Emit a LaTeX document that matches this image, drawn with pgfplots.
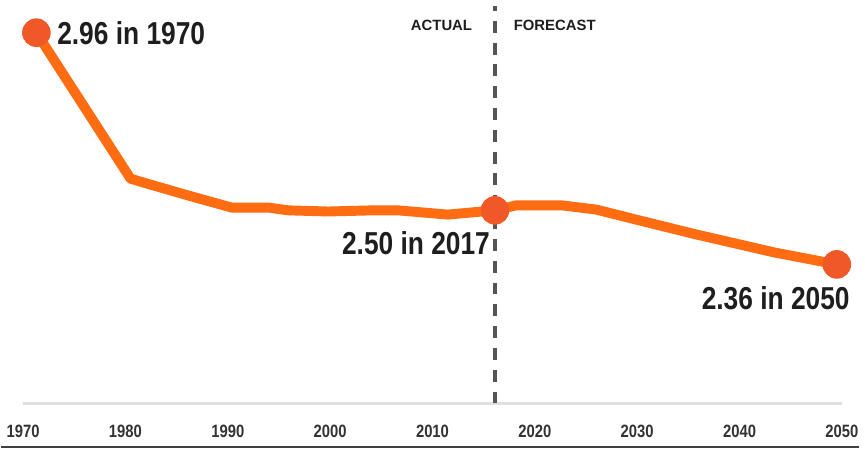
\documentclass[border=0pt]{standalone}
\usepackage{fontspec}
\setmainfont{Liberation Sans}[FakeStretch=0.83]
\newfontfamily\widefont{Liberation Sans}
\usepackage{pgfplots}
\pgfplotsset{compat=1.18}
\definecolor{lineor}{RGB}{255,108,18}
\definecolor{dotor}{RGB}{240,88,40}
\definecolor{txt}{RGB}{30,30,30}
\definecolor{dashgray}{RGB}{85,85,85}
\begin{document}
\begin{tikzpicture}
\begin{axis}[
  scale only axis, width=413pt, height=202.6pt,
  xmin=1970, xmax=2050, ymin=2.0, ymax=3.04,
  axis x line=bottom, axis y line=none,
  x axis line style={-, draw=gray!25, line width=1.2pt},
  xtick={1970,1980,...,2050}, major tick length=0pt,
  xticklabel style={font=\bfseries\fontsize{9}{10}\selectfont, text=black!80, yshift=-7.5pt},
  /pgf/number format/1000 sep={},
  /pgf/number format/assume math mode=true,
  clip=false,
]
% fixed page size and bottom rule
\path ([xshift=-11pt,yshift=-23pt]rel axis cs:0,0) rectangle ([xshift=8.5pt,yshift=0.9pt]rel axis cs:1,1);
\draw[black!75, line width=1pt] ([xshift=-11pt,yshift=-22pt]rel axis cs:0,0) -- ([xshift=8.5pt,yshift=-22pt]rel axis cs:1,0);

% actual / forecast divider
\draw[dashgray, line width=2pt, dash pattern=on 6pt off 5pt] (axis cs:2016.1,2.0) -- (axis cs:2016.1,3.03);
\node[anchor=east, font=\widefont\bfseries\fontsize{7.5}{8}\selectfont, text=txt] at ([xshift=-8pt]axis cs:2016.1,2.98) {ACTUAL};
\node[anchor=west, font=\widefont\bfseries\fontsize{7.5}{8}\selectfont, text=txt] at ([xshift=6pt]axis cs:2016.1,2.98) {FORECAST};

% fertility rate line
\addplot[lineor, line width=5pt, line join=round, line cap=round] coordinates {
  (1971.3,2.96) (1980.5,2.582) (1982.4,2.567) (1985.8,2.541) (1990.4,2.507)
  (1994.0,2.507) (1995.9,2.500) (1999.8,2.497) (2004.2,2.500) (2006.6,2.500)
  (2011.5,2.489) (2016.1,2.50) (2018.2,2.513) (2022.6,2.513) (2026.0,2.502)
  (2029.9,2.476) (2035.7,2.438) (2043.4,2.391) (2049.5,2.36)
};
% highlighted points
\addplot[only marks, color=dotor, mark=*, mark size=7pt, mark options={draw=dotor, fill=dotor}] coordinates {
  (1971.3,2.96) (2016.1,2.50) (2049.5,2.36)
};

\node[anchor=west, font=\bfseries\fontsize{16}{18}\selectfont, text=txt] at ([xshift=7pt]axis cs:1971.3,2.96) {2.96 in 1970};
\node[anchor=east, font=\bfseries\fontsize{16}{18}\selectfont, text=txt] at ([xshift=1pt,yshift=-16.5pt]axis cs:2016.1,2.50) {2.50 in 2017};
\node[anchor=east, font=\bfseries\fontsize{16}{18}\selectfont, text=txt] at ([xshift=10pt,yshift=-17pt]axis cs:2049.5,2.36) {2.36 in 2050};
\end{axis}
\end{tikzpicture}
\end{document}
